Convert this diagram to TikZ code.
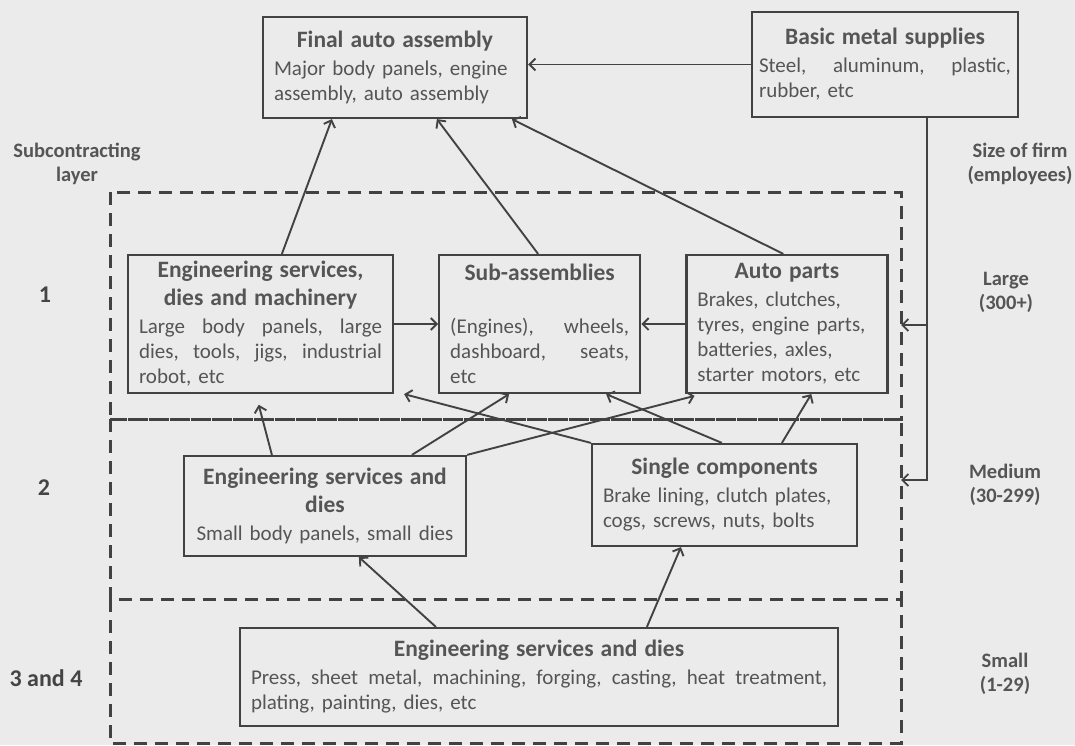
\documentclass[tikz,border=0pt]{standalone}
\usepackage{fontspec}
\setmainfont{Carlito}
\usepackage{tikz}
\usetikzlibrary{positioning,arrows.meta}

\definecolor{bgc}{HTML}{EBEBEB}
\definecolor{linec}{HTML}{424242}
\definecolor{textc}{HTML}{555555}
\definecolor{numc}{HTML}{444444}

\newcommand{\hd}[1]{{\centering\fontsize{23.5}{28}\selectfont\bfseries #1\par}\vskip 3pt}
\newcommand{\jl}[1]{\hbox to \hsize{#1}}

\tikzset{
	blk/.style={draw=linec, line width=2.2pt, text=textc, inner xsep=11pt, inner ysep=4pt,
		font=\fontsize{21}{25}\selectfont},
	layerbox/.style={draw=linec, line width=3pt, dash pattern=on 13pt off 8pt},
	arr/.style={draw=linec, line width=1.9pt, -{Straight Barb[length=6pt,width=12pt]}},
	side/.style={text=textc, align=center, font=\fontsize{20.5}{24}\selectfont\bfseries},
	num/.style={text=numc, font=\fontsize{24}{28}\selectfont\bfseries}
}

\begin{document}
\begin{tikzpicture}[x=1pt, y=-1pt]
		\useasboundingbox (0,0) rectangle (1075,745);
		\fill[bgc] (0,0) rectangle (1075,745);

		\draw[layerbox] (110,192) rectangle (901,419);
		\draw[layerbox] (110,419) rectangle (901,599);
		\draw[layerbox] (110,599) rectangle (901,743);
		\coordinate (large) at (901,325);
		\coordinate (medium) at (901,480);

		\node[blk, minimum width=264pt, minimum height=101pt, text width=242pt] (final) at (395,67.5)
			{\hd{Final auto assembly}Major body panels, engine\\assembly, auto assembly};
		\node[blk, inner xsep=7pt, minimum width=266pt, minimum height=105pt, text width=252pt] (basic) at (885,64.5)
			{\hd{Basic metal supplies}\jl{Steel,\hfil aluminum,\hfil plastic,}rubber, etc};

		\node[blk, minimum width=265pt, minimum height=138pt, text width=243pt] (esdm) at (260.5,324)
			{\hd{Engineering services,\\dies and machinery}\jl{Large\hfil body\hfil panels,\hfil large}\jl{dies,\hfil tools,\hfil jigs,\hfil industrial}robot, etc};
		\node[blk, minimum width=201pt, minimum height=138pt, text width=179pt, right=44pt of esdm] (sub)
			{\hd{Sub-assemblies}\vspace{25pt}\jl{(Engines),\hfil wheels,}\jl{dashboard,\hfil seats,}etc};
		\node[blk, minimum width=201pt, minimum height=138pt, text width=179pt, right=44pt of sub] (auto)
			{\hd{Auto parts}Brakes, clutches,\\tyres, engine parts,\\batteries, axles,\\starter motors, etc};

		\node[blk, minimum width=282pt, minimum height=100pt, text width=260pt] (esd2) at (325,506)
			{\hd{Engineering services and\\dies}{\centering Small body panels, small dies\par}};
		\node[blk, minimum width=265pt, minimum height=102pt, text width=243pt] (single) at (724.5,495)
			{\hd{Single components}Brake lining, clutch plates,\\cogs, screws, nuts, bolts};

		\node[blk, minimum width=598pt, minimum height=98pt, text width=576pt] (esd3) at (539,677)
			{\hd{Engineering services and dies}\jl{Press,\hfil sheet\hfil metal,\hfil machining,\hfil forging,\hfil casting,\hfil heat\hfil treatment,}plating, painting, dies, etc};

		\node[side] (sublayer) at (77,164) {Subcontracting\\layer};
		\node[side] (firmsize) at (1020,164) {Size of firm\\(employees)};
		\node[side] (lg) at (1006,292) {Large\\(300+)};
		\node[side] (md) at (1005,485) {Medium\\(30-299)};
		\node[side] (sm) at (1005,674) {Small\\(1-29)};
		\node[num] (n1) at (45,295) {1};
		\node[num] (n2) at (44,488) {2};
		\node[num] (n34) at (46,678) {3 and 4};

		\draw[arr] (basic.west) -- (final.east |- basic.west);
		\draw[arr] ([xshift=155pt]esdm.north west) -- ([xshift=70pt]final.south west);
		\draw[arr] ([xshift=100pt]sub.north west) -- ([xshift=175pt]final.south west);
		\draw[arr] ([xshift=98pt]auto.north west) -- ([xshift=250pt]final.south west);

		\draw[arr] ([xshift=42pt]basic.south) |- (medium);
		\draw[arr] ([xshift=42pt]basic.south |- large) -- (large);

		\draw[arr] (esdm.east) -- (sub.west);
		\draw[arr] (auto.west) -- (sub.east);

		\draw[arr, shorten >=11pt] ([xshift=89pt]esd2.north west) -- ([xshift=129pt]esdm.south west);
		\draw[arr] ([xshift=229pt]esd2.north west) -- ([xshift=71pt]sub.south west);
		\draw[arr, shorten >=7pt] (esd2.north east) -- ([xshift=16pt]auto.south west);
		\draw[arr] (single.north west) -- ([xshift=10pt]esdm.south east);
		\draw[arr] ([xshift=131pt]single.north west) -- ([xshift=168pt]sub.south west);
		\draw[arr] ([xshift=191pt]single.north west) -- ([xshift=126pt]auto.south west);

		\draw[arr] ([xshift=197pt]esd3.north west) -- ([xshift=176pt]esd2.south west);
		\draw[arr] ([xshift=408pt]esd3.north west) -- ([xshift=90pt]single.south west);
	\end{tikzpicture}
\end{document}
